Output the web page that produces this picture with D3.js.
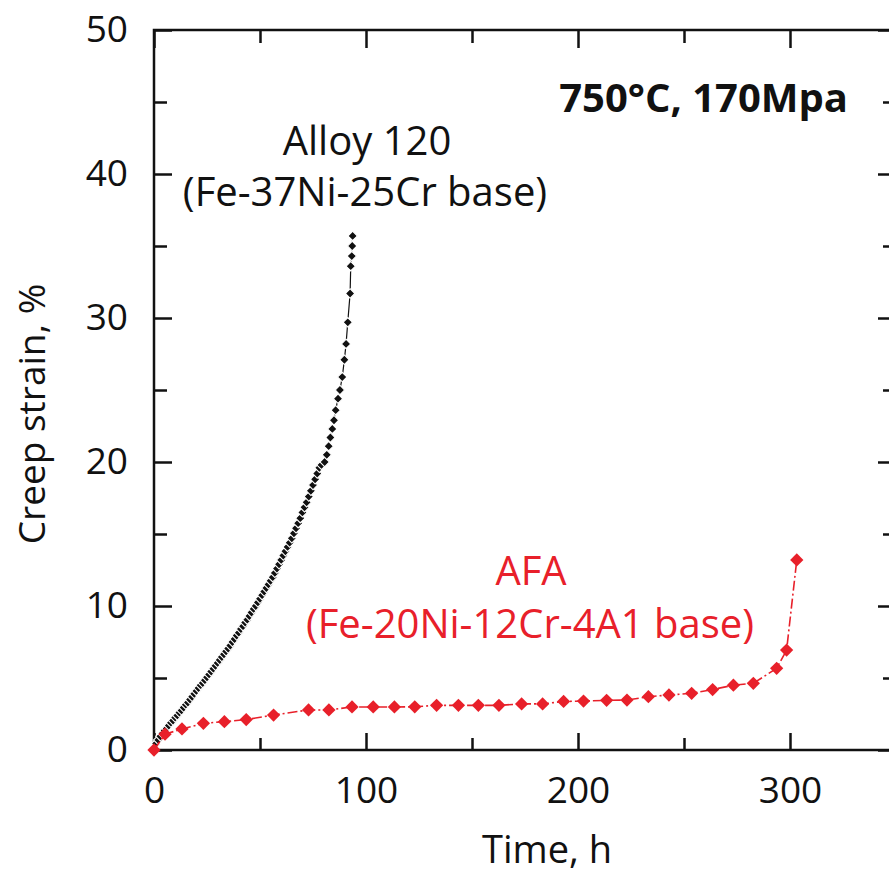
<!DOCTYPE html>
<html>
<head>
<meta charset="utf-8">
<script src="https://cdn.jsdelivr.net/npm/d3@7"></script>
<style>
  html, body { margin: 0; padding: 0; background: #fff; }
  svg { display: block; }
  text { font-family: "Open Sans", "Noto Sans", sans-serif; }
</style>
</head>
<body>
<svg id="chart" width="889" height="874"></svg>
<script>
// ---- Data ----
// Alloy 120 (Fe-37Ni-25Cr base): time (h) and creep strain (%)
const alloyTime = [0,1,2,3,4,5,6,7,8,9,10,11,12,13,14,15,16,17,18,19,20,21,22,23,24,25,26,27,28,29,30,
  31,32,33,34,35,36,37,38,39,40,41,42,43,44,45,46,47,48,49,50,51,52,53,54,55,56,57,58,59,60,
  61,62,63,64,65,66,67,68,69,70,71,72,73,74,75,76,77,78,79,
  80.5,81.5,82.4,83.2,84.1,84.9,85.7,86.8,87.7,88.8,89.8,90.6,91.4,92.5,92.8,93.3,93.5,93.7];
const alloyStrain = [0,0.45,0.7,0.95,1.15,1.35,1.5,1.7,1.9,2.05,2.25,2.4,2.6,2.75,2.95,3.15,3.3,3.5,3.7,3.9,4.1,
  4.3,4.5,4.65,4.85,5.05,5.25,5.45,5.65,5.85,6.05,6.25,6.45,6.65,6.85,7.05,7.25,7.5,7.7,7.95,8.15,
  8.4,8.6,8.85,9.05,9.3,9.55,9.8,10.0,10.25,10.5,10.75,11.0,11.25,11.5,11.75,12.0,12.3,12.6,12.9,13.2,
  13.5,13.8,14.1,14.4,14.7,15.05,15.4,15.75,16.1,16.5,16.85,17.2,17.6,18.0,18.4,18.8,19.2,19.6,19.8,
  20.0,20.5,21.1,21.7,22.3,22.9,23.6,24.4,25.0,25.9,27.1,28.2,29.7,31.7,33.6,34.3,35.0,35.7];

// AFA (Fe-20Ni-12Cr-4A1 base)
const afaTime = [0,5.2,13.2,23.3,33.2,43.5,56.4,72.9,82.5,93.4,103.4,113.4,123.0,133.3,143.6,153.0,162.7,
  173.4,183.3,193.2,202.6,213.5,223.1,233.2,242.9,253.6,263.5,273.3,282.7,293.7,298.4,303.2];
const afaStrain = [0,1.1,1.46,1.85,1.97,2.11,2.43,2.78,2.78,2.99,2.99,2.99,3.0,3.1,3.1,3.1,3.1,
  3.2,3.2,3.37,3.4,3.45,3.47,3.7,3.82,3.94,4.2,4.5,4.63,5.67,6.94,13.2];

const xMajorTicks = [0, 100, 200, 300];
const xMinorTicks = [50, 150, 250];
const yMajorTicks = [0, 10, 20, 30, 40, 50];
const yMinorTicks = [5, 15, 25, 35, 45];

const xTitle = "Time, h";
const yTitle = "Creep strain, %";
const condLabel = "750°C, 170Mpa";
const alloyLabel = ["Alloy 120", "(Fe-37Ni-25Cr base)"];
const afaLabel = ["AFA", "(Fe-20Ni-12Cr-4A1 base)"];

// ---- Layout ----
const svg = d3.select("#chart");
const L = 154, R = 896, T = 30, B = 750;
const red = "#e8202a";

const x = d3.scaleLinear().domain([0, 350]).range([L, R]);
const y = d3.scaleLinear().domain([0, 50]).range([B, T]);

const fs = 37;   // tick labels / axis titles
const fa = 40;   // annotations

function styleAxis(g) {
  g.selectAll(".domain").remove();
  g.selectAll(".tick line").attr("stroke", "#111").attr("stroke-width", 2.5);
  g.selectAll(".tick text").attr("fill", "#111").attr("font-size", fs);
}
const gx = svg.append("g").attr("transform", `translate(0,${B})`)
  .call(d3.axisBottom(x).tickValues(xMajorTicks).tickSizeInner(-17).tickSizeOuter(0).tickPadding(27).tickFormat(d3.format("d")));
styleAxis(gx);
const gx2 = svg.append("g").attr("transform", `translate(0,${B})`)
  .call(d3.axisBottom(x).tickValues(xMinorTicks).tickSizeInner(-12).tickSizeOuter(0).tickFormat(""));
styleAxis(gx2);
const gxt = svg.append("g").attr("transform", `translate(0,${T})`)
  .call(d3.axisTop(x).tickValues(xMajorTicks).tickSizeInner(-18).tickSizeOuter(0).tickFormat(""));
styleAxis(gxt);
const gxt2 = svg.append("g").attr("transform", `translate(0,${T})`)
  .call(d3.axisTop(x).tickValues(xMinorTicks).tickSizeInner(-13).tickSizeOuter(0).tickFormat(""));
styleAxis(gxt2);

const gy = svg.append("g").attr("transform", `translate(${L},0)`)
  .call(d3.axisLeft(y).tickValues(yMajorTicks).tickSizeInner(-18).tickSizeOuter(0).tickPadding(26).tickFormat(d3.format("d")));
styleAxis(gy);
const gy2 = svg.append("g").attr("transform", `translate(${L},0)`)
  .call(d3.axisLeft(y).tickValues(yMinorTicks).tickSizeInner(-13).tickSizeOuter(0).tickFormat(""));
styleAxis(gy2);
const gyr = svg.append("g").attr("transform", `translate(${R},0)`)
  .call(d3.axisRight(y).tickValues(yMajorTicks).tickSizeInner(-18).tickSizeOuter(0).tickFormat(""));
styleAxis(gyr);
const gyr2 = svg.append("g").attr("transform", `translate(${R},0)`)
  .call(d3.axisRight(y).tickValues(yMinorTicks).tickSizeInner(-13).tickSizeOuter(0).tickFormat(""));
styleAxis(gyr2);

// Frame
svg.append("rect").attr("x", L).attr("y", T).attr("width", R - L).attr("height", B - T)
  .attr("fill", "none").attr("stroke", "#111").attr("stroke-width", 2.5);

// Axis titles
svg.append("text").attr("x", 547).attr("y", 863).attr("text-anchor", "middle")
  .attr("font-size", 38).attr("fill", "#111").text(xTitle);
svg.append("text").attr("transform", `translate(45,414) rotate(-90)`).attr("text-anchor", "middle")
  .attr("font-size", fs).attr("fill", "#111").text(yTitle);

// Series
const alloyData = alloyTime.map((t, i) => ({ t, s: alloyStrain[i] }));
const afaData = afaTime.map((t, i) => ({ t, s: afaStrain[i] }));
const line = d3.line().x(d => x(d.t)).y(d => y(d.s));

svg.append("path").datum(alloyData).attr("d", line)
  .attr("fill", "none").attr("stroke", "#111").attr("stroke-width", 1.2);
const smallDiamond = d3.symbol().type(d3.symbolSquare).size(44)();
svg.append("g").selectAll("path").data(alloyData).join("path")
  .attr("d", smallDiamond)
  .attr("transform", d => `translate(${x(d.t)},${y(d.s)}) rotate(45)`)
  .attr("fill", "#111").attr("stroke", "#fff").attr("stroke-width", 1.1);

svg.append("path").datum(afaData).attr("d", line)
  .attr("fill", "none").attr("stroke", red).attr("stroke-width", 1.6)
  .attr("stroke-dasharray", "10,3,2,3");
const bigDiamond = d3.symbol().type(d3.symbolSquare).size(88)();
svg.append("g").selectAll("path").data(afaData).join("path")
  .attr("d", bigDiamond)
  .attr("transform", d => `translate(${x(d.t)},${y(d.s)}) rotate(45)`)
  .attr("fill", red);

// Annotations
svg.append("text").attr("x", 848).attr("y", 112).attr("text-anchor", "end")
  .attr("font-size", 40).attr("font-weight", "bold").attr("fill", "#111").text(condLabel);
svg.append("text").attr("x", 367).attr("y", 155).attr("text-anchor", "middle")
  .attr("font-size", fa).attr("fill", "#111").text(alloyLabel[0]);
svg.append("text").attr("x", 365).attr("y", 206).attr("text-anchor", "middle")
  .attr("font-size", fa).attr("fill", "#111").text(alloyLabel[1]);
svg.append("text").attr("x", 531).attr("y", 585).attr("text-anchor", "middle")
  .attr("font-size", fa).attr("fill", red).text(afaLabel[0]);
svg.append("text").attr("x", 530).attr("y", 638).attr("text-anchor", "middle")
  .attr("font-size", fa).attr("fill", red).text(afaLabel[1]);
</script>
</body>
</html>
